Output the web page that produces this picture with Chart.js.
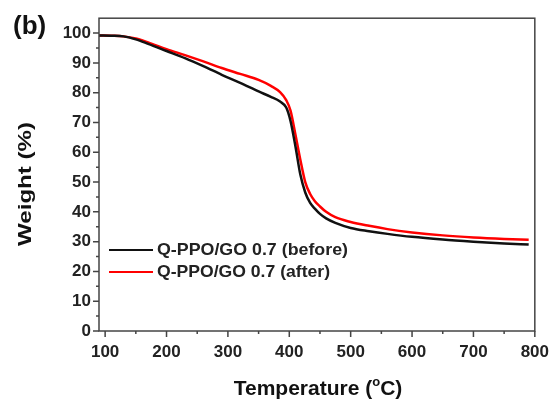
<!DOCTYPE html>
<html>
<head>
<meta charset="utf-8">
<script src="https://cdn.jsdelivr.net/npm/chart.js@4"></script>
<style>
  html, body { margin: 0; padding: 0; background: #fff; }
  #wrap { width: 560px; height: 400px; }
</style>
</head>
<body>
<div id="wrap"><canvas id="chart-tga"></canvas></div>
<script>
// TGA curves, Q-PPO/GO 0.7 before and after
const temps = [90, 110, 130, 150, 170, 200, 230, 260, 290, 320, 350, 370, 385, 395, 402,
  410, 418, 426, 434, 442, 450, 460, 475, 500, 530, 560, 600, 650, 700, 750, 790];
const weightBefore = [99.2, 99.1, 98.9, 97.9, 96.4, 94.0, 91.6, 88.9, 86.0, 83.3, 80.4, 78.6, 77.0, 75.0, 70.5,
  62.0, 52.5, 46.5, 43.0, 41.0, 39.3, 37.8, 36.3, 34.6, 33.5, 32.6, 31.6, 30.7, 30.0, 29.4, 29.0];
const weightAfter = [99.2, 99.1, 98.9, 98.2, 96.9, 94.6, 92.6, 90.5, 88.3, 86.3, 84.3, 82.3, 80.2, 77.5, 74.0,
  66.0, 57.5, 50.0, 46.0, 43.5, 41.8, 40.0, 38.2, 36.6, 35.3, 34.2, 33.1, 32.1, 31.4, 30.9, 30.6];
const seriesLabels = ["Q-PPO/GO 0.7 (before)", "Q-PPO/GO 0.7 (after)"];
const seriesColors = ["#111111", "#ff0000"];
const xTicks = [100, 200, 300, 400, 500, 600, 700, 800];
const yTicks = [0, 10, 20, 30, 40, 50, 60, 70, 80, 90, 100];

const BOLD = "Arial, 'Liberation Sans', sans-serif";
const AXIS = "#444";

// draws text squeezed/stretched to a given width (the source figure's text is wide)
function wideText(ctx, str, x, y, width) {
  const w = ctx.measureText(str).width;
  ctx.save();
  ctx.translate(x, y);
  ctx.scale(width / w, 1);
  ctx.fillText(str, 0, 0);
  ctx.restore();
}

// frame, tick marks, legend and titles
const framePlugin = {
  id: "frame",
  afterDatasetsDraw(chart) {
    const { ctx, chartArea: a, scales: { x, y } } = chart;
    ctx.save();
    ctx.strokeStyle = AXIS;
    ctx.lineWidth = 1.5;
    ctx.strokeRect(a.left, a.top, a.right - a.left, a.bottom - a.top);

    ctx.beginPath();
    for (let v = 100; v <= 800; v += 50) {
      const px = x.getPixelForValue(v);
      ctx.moveTo(px, a.bottom);
      ctx.lineTo(px, a.bottom + (v % 100 === 0 ? 6 : 3));
    }
    for (let v = 0; v <= 100; v += 5) {
      const py = y.getPixelForValue(v);
      ctx.moveTo(a.left, py);
      ctx.lineTo(a.left - (v % 10 === 0 ? 6 : 3), py);
    }
    ctx.stroke();

    // legend
    ctx.font = "bold 17px " + BOLD;
    ctx.textBaseline = "middle";
    ctx.textAlign = "left";
    const labelWidths = [191, 173];
    seriesLabels.forEach((lbl, i) => {
      const ly = 250 + i * 22;
      ctx.strokeStyle = seriesColors[i];
      ctx.lineWidth = 2.2;
      ctx.beginPath();
      ctx.moveTo(109, ly);
      ctx.lineTo(153, ly);
      ctx.stroke();
      ctx.fillStyle = "#222";
      wideText(ctx, lbl, 157, ly, labelWidths[i]);
    });

    // panel letter
    ctx.font = "bold 26px " + BOLD;
    ctx.fillStyle = "#111";
    ctx.fillText("(b)", 13, 27);

    // y title
    ctx.font = "bold 19px " + BOLD;
    ctx.save();
    ctx.translate(26, 184);
    ctx.rotate(-Math.PI / 2);
    ctx.textAlign = "left";
    wideText(ctx, "Weight (%)", -62, 0, 124);
    ctx.restore();

    // x title with superscript o
    const t1 = "Temperature (", t2 = "o", t3 = "C)";
    ctx.font = "bold 21px " + BOLD;
    const w1 = ctx.measureText(t1).width, w3 = ctx.measureText(t3).width;
    ctx.font = "bold 13px " + BOLD;
    const w2 = ctx.measureText(t2).width;
    let tx = 318 - (w1 + w2 + w3) / 2;
    ctx.font = "bold 21px " + BOLD;
    ctx.fillText(t1, tx, 389);
    tx += w1;
    ctx.font = "bold 13px " + BOLD;
    ctx.fillText(t2, tx, 382);
    tx += w2;
    ctx.font = "bold 21px " + BOLD;
    ctx.fillText(t3, tx, 389);
    ctx.restore();
  },
};

const toPoints = (vals) => temps.map((t, i) => ({ x: t, y: vals[i] }));

new Chart(document.getElementById("chart-tga"), {
  type: "line",
  data: {
    datasets: [weightBefore, weightAfter].map((vals, i) => ({
      label: seriesLabels[i],
      data: toPoints(vals),
      borderColor: seriesColors[i],
      borderWidth: 2.5,
      pointRadius: 0,
      fill: false,
      cubicInterpolationMode: "monotone",
    })),
  },
  options: {
    responsive: true,
    maintainAspectRatio: false,
    animation: false,
    layout: { padding: { top: 12, right: 24, left: 0, bottom: 0 } },
    scales: {
      x: {
        type: "linear",
        min: 90,
        max: 800,
        afterBuildTicks: (s) => { s.ticks = xTicks.map((v) => ({ value: v })); },
        afterFit: (s) => { s.height = 69; },
        grid: { display: false, drawTicks: false },
        border: { display: false },
        ticks: { padding: 11, color: "#222", font: { family: BOLD, size: 17, weight: "bold" } },
      },
      y: {
        min: 0,
        max: 105,
        afterBuildTicks: (s) => { s.ticks = yTicks.map((v) => ({ value: v })); },
        afterFit: (s) => { s.width = 99; },
        grid: { display: false, drawTicks: false },
        border: { display: false },
        ticks: { padding: 8, color: "#222", font: { family: BOLD, size: 17, weight: "bold" } },
      },
    },
    plugins: {
      legend: { display: false },
      tooltip: { enabled: false },
    },
  },
  plugins: [framePlugin],
});
</script>
</body>
</html>
